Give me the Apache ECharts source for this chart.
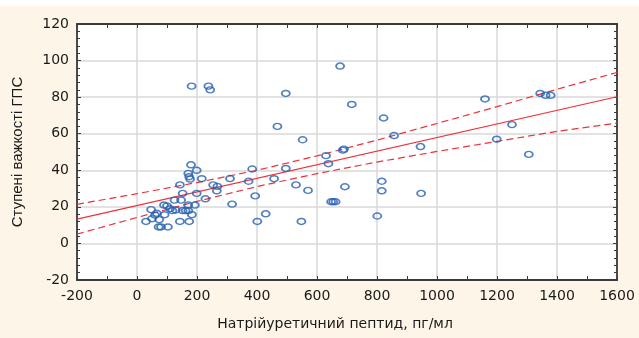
<!DOCTYPE html>
<html>
<head>
<meta charset="utf-8">
<script src="https://cdn.jsdelivr.net/npm/echarts@6/dist/echarts.min.js"></script>
<style>
  html, body { margin: 0; padding: 0; background: #ffffff; }
  #chart { width: 639px; height: 338px; }
</style>
</head>
<body>
<div id="chart"></div>
<script>
// Observations: natriuretic peptide (pg/ml) vs. severity grade
const ptsX = [30, 47, 50, 60, 66, 74, 72, 80, 103, 90, 92, 100, 110, 118, 125, 129, 143, 143, 147, 152,
  152, 162, 171, 171, 174, 183, 193, 199, 171, 174, 177, 180, 199, 216, 228, 254, 268, 266, 310, 317,
  384, 372, 394, 401, 429, 457, 496, 530, 570, 548, 182, 238, 244, 496, 468, 552, 630, 638, 686, 690,
  677, 716, 822, 857, 945, 1160, 1199, 1250, 1306, 1344, 1362, 1379, 693, 816, 816, 801, 947, 647, 654, 662];
const ptsY = [12, 18.5, 13.5, 15.5, 16.5, 13, 9, 9, 9, 21, 15.7, 20.5, 19, 18, 23.7, 18.3, 12, 32, 23.7, 27.4,
  18, 18, 21, 18, 12, 15.7, 21, 27.4, 38.3, 36.5, 35.2, 43, 40, 35.4, 24.4, 32, 31.2, 28.8, 35.5, 21.5,
  40.7, 34, 26, 12, 16.2, 35.4, 41, 32, 29, 12, 86, 86, 84, 82, 64, 56.7, 48, 43.6, 51, 51.6,
  97, 76, 68.6, 59, 53, 79, 57, 65, 48.7, 82, 81, 81, 31, 34, 28.8, 15, 27.4, 22.8, 22.8, 22.8];

// Regression line and its confidence band
const fitX = [-200, 1600];
const fitY = [13.3, 80.2];
const bandX = [-200, 0, 200, 400, 600, 800, 1000, 1200, 1400, 1600];
const bandUpper = [21.4, 27.2, 33.3, 40.0, 47.9, 56.5, 65.6, 74.8, 84.3, 93.5];
const bandLower = [5.1, 14.2, 23.0, 31.1, 38.2, 44.5, 50.3, 55.8, 61.3, 65.8];

// Axis tick values
const xTicks = [-200, 0, 200, 400, 600, 800, 1000, 1200, 1400, 1600];
const yTicks = [-20, 0, 20, 40, 60, 80, 100, 120];

const zip = (xs, ys) => xs.map((x, i) => [x, ys[i]]);

const RED = '#ee3138';
const FRAME = '#3a3a3a';
const tickFont = 'DejaVu Sans, Verdana, sans-serif';
const plainLabel = v => String(v);

const chart = echarts.init(document.getElementById('chart'), null, { renderer: 'canvas' });

const baseX = {
  type: 'value', min: xTicks[0], max: xTicks[xTicks.length - 1], interval: 200,
  axisLine: { show: true, onZero: false, lineStyle: { color: FRAME, width: 1.8 } },
  axisTick: { show: true, inside: true, length: 4, lineStyle: { color: FRAME, width: 1 } },
  minorTick: { show: true, splitNumber: 2, length: 4, lineStyle: { color: FRAME, width: 1 } },
};
const baseY = {
  type: 'value', min: yTicks[0], max: yTicks[yTicks.length - 1], interval: 20,
  axisLine: { show: true, onZero: false, lineStyle: { color: FRAME, width: 1.8 } },
  axisTick: { show: true, inside: true, length: 4, lineStyle: { color: FRAME, width: 1 } },
  minorTick: { show: true, splitNumber: 5, length: 3, lineStyle: { color: FRAME, width: 1 } },
};

chart.setOption({
  animation: false,
  backgroundColor: '#fdf5e8',
  graphic: [
    { type: 'rect', left: 0, top: 0, shape: { width: 639, height: 6 }, style: { fill: '#ffffff' }, z: -1 }
  ],
  grid: { left: 77, right: 22, top: 24, bottom: 58, show: true, backgroundColor: '#ffffff', borderWidth: 0 },
  xAxis: [
    Object.assign({}, baseX, {
      position: 'bottom',
      name: 'Натрійуретичний пептид, пг/мл',
      nameLocation: 'middle', nameGap: 37,
      nameTextStyle: { fontFamily: tickFont, fontSize: 14, color: '#1a1a1a', padding: [0, 24, 0, 0] },
      axisLabel: { margin: 9, fontFamily: tickFont, fontSize: 14, color: '#1a1a1a', formatter: plainLabel },
      splitLine: { show: true, lineStyle: { color: '#d9d9d9', width: 1.5 } },
    }),
    Object.assign({}, baseX, {
      position: 'top',
      axisLabel: { show: false },
      splitLine: { show: false },
    }),
  ],
  yAxis: [
    Object.assign({}, baseY, {
      position: 'left',
      name: 'Ступені важкості ГПС',
      nameLocation: 'middle', nameGap: 52,
      nameTextStyle: { fontFamily: 'Liberation Sans, Arial, sans-serif', fontSize: 15, color: '#1a1a1a' },
      axisLabel: { margin: 8, fontFamily: tickFont, fontSize: 14, color: '#1a1a1a', formatter: plainLabel },
      splitLine: { show: true, lineStyle: { color: '#d9d9d9', width: 1.5 } },
    }),
    Object.assign({}, baseY, {
      position: 'right',
      axisLabel: { show: false },
      splitLine: { show: false },
    }),
  ],
  series: [
    {
      type: 'line', data: zip(bandX, bandUpper), symbol: 'none', silent: true,
      lineStyle: { color: RED, width: 1.2, type: [7, 4] }, z: 3,
    },
    {
      type: 'line', data: zip(bandX, bandLower), symbol: 'none', silent: true,
      lineStyle: { color: RED, width: 1.2, type: [7, 4] }, z: 3,
    },
    {
      type: 'line', data: zip(fitX, fitY), symbol: 'none', silent: true,
      lineStyle: { color: RED, width: 1.2 }, z: 3,
    },
    {
      type: 'scatter', data: zip(ptsX, ptsY), symbol: 'circle', symbolSize: [8, 6],
      itemStyle: { color: 'rgba(255,255,255,0)', borderColor: '#2660b2', borderWidth: 1.6 }, z: 4,
    },
  ],
});
</script>
</body>
</html>
